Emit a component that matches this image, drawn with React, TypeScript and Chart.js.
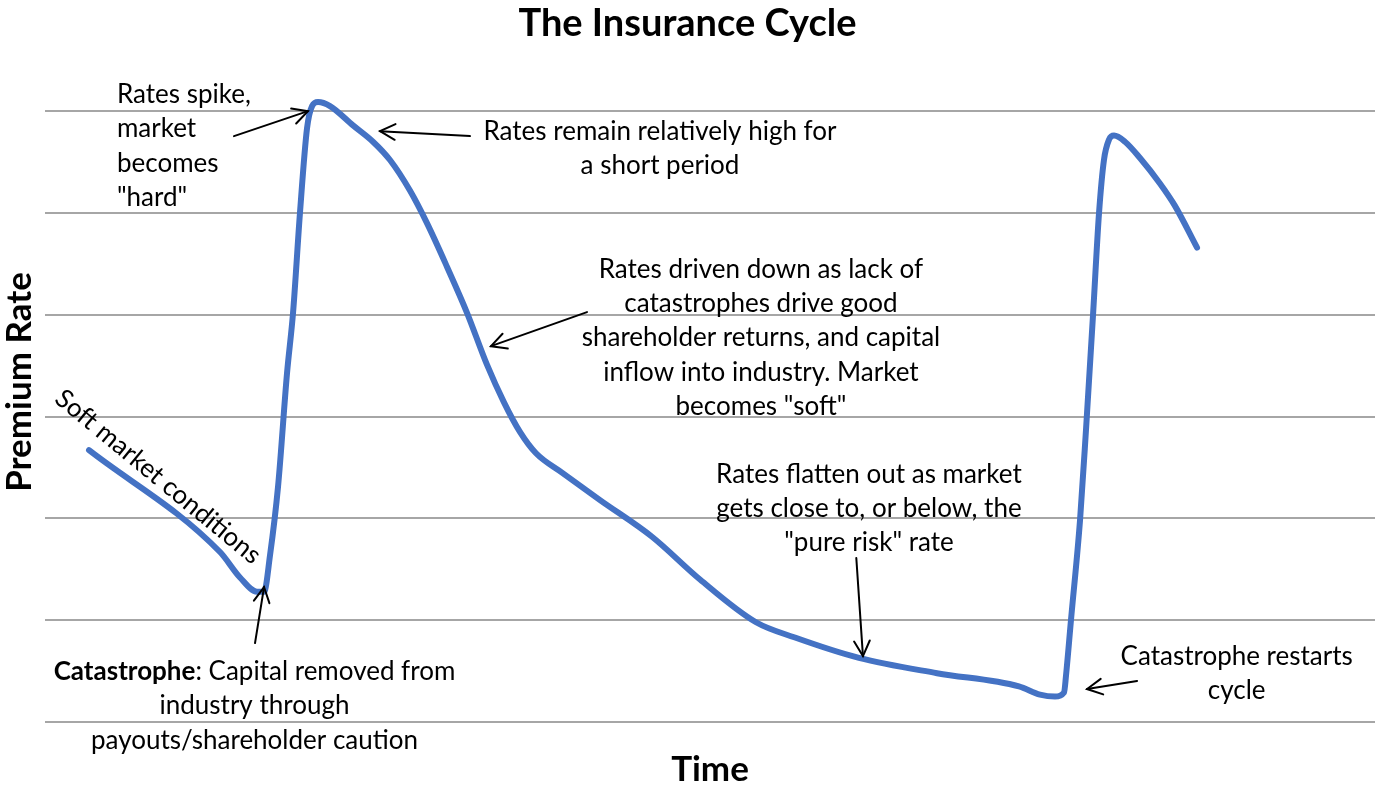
import React, { useEffect, useRef } from 'react';
import { Chart, registerables } from 'chart.js';

Chart.register(...registerables);

// ---- Data ----
const timeValues = [
  3.31, 13.16, 14.66, 15.94, 16.47, 16.92, 17.52, 18.2, 18.65, 19.17, 19.7, 20.08, 20.53, 21.43,
  23.16, 24.66, 25.94, 27.44, 28.72, 30.23, 31.73, 33.23, 34.51, 35.71, 36.92, 38.87, 41.73,
  45.64, 49.25, 53.46, 56.39, 61.2, 67.07, 73.23, 74.81, 75.94, 76.62, 76.77, 77.14, 77.82,
  78.27, 78.8, 79.25, 79.62, 80.0, 80.38, 81.2, 82.33, 83.83, 84.96, 86.62,
];
const rateValues = [
  2.67, 1.67, 1.42, 1.28, 1.28, 1.64, 2.31, 3.43, 4.02, 5.0, 5.83, 6.05, 6.09, 6.05,
  5.86, 5.7, 5.52, 5.22, 4.9, 4.47, 4.02, 3.51, 3.14, 2.85, 2.64, 2.45, 2.18,
  1.82, 1.4, 0.98, 0.83, 0.63, 0.48, 0.35, 0.27, 0.25, 0.29, 0.46, 1.0, 1.98,
  2.87, 4.0, 5.0, 5.52, 5.72, 5.76, 5.7, 5.54, 5.29, 5.07, 4.66,
];
const gridLevels = [0, 1, 2, 3, 4, 5, 6];

const chartTitle = 'The Insurance Cycle';
const xAxisTitle = 'Time';
const yAxisTitle = 'Premium Rate';

// Annotation texts (anchored in data units: time, rate)
const noteSpike = ['Rates spike,', 'market', 'becomes', '"hard"'];
const noteHigh = ['Rates remain relatively high for', 'a short period'];
const noteDown = [
  'Rates driven down as lack of',
  'catastrophes drive good',
  'shareholder returns, and capital',
  'inflow into industry. Market',
  'becomes "soft"',
];
const noteFlat = ['Rates flatten out as market', 'gets close to, or below, the', '"pure risk" rate'];
const noteRestart = ['Catastrophe restarts', 'cycle'];
const noteCatBold = 'Catastrophe';
const noteCat = [': Capital removed from', 'industry through', 'payouts/shareholder caution'];
const noteSoft = 'Soft market conditions';

const notes = [
  { lines: noteSpike, t: 5.41, v: 6.079, align: 'left' as const },
  { lines: noteHigh, t: 46.24, v: 5.715, align: 'center' as const },
  { lines: noteDown, t: 53.83, v: 4.363, align: 'center' as const },
  { lines: noteFlat, t: 61.95, v: 2.351, align: 'center' as const },
  { lines: noteRestart, t: 89.6, v: 0.562, align: 'center' as const },
  { lines: noteCat, t: 15.75, v: 0.412, align: 'center' as const, boldPrefix: noteCatBold },
];

const arrows = [
  { from: [14.21, 5.755], to: [19.77, 6.0] },
  { from: [31.95, 5.755], to: [25.19, 5.804] },
  { from: [40.75, 4.026], to: [33.53, 3.692] },
  { from: [61.0, 1.611], to: [61.5, 0.648] },
  { from: [82.11, 0.403], to: [78.35, 0.324] },
  { from: [15.79, 0.776], to: [16.47, 1.326] },
];
const softLabel = { t: 8.5, v: 2.41, angleDeg: 39.5 };

const FONT = 'Lato, "Open Sans", sans-serif';
const NOTE_SIZE = 26;
const LINE_GAP = 34.3;

const notesPlugin = {
  id: 'cycleNotes',
  afterDatasetsDraw(chart: any) {
    const { ctx, scales } = chart;
    const xs = scales.x;
    const ys = scales.y;
    const px = (t: number) => xs.getPixelForValue(t);
    const py = (v: number) => ys.getPixelForValue(v);
    ctx.save();
    ctx.fillStyle = '#000';
    ctx.strokeStyle = '#000';
    ctx.lineWidth = 2;
    ctx.lineCap = 'round';
    // arrows
    arrows.forEach((a) => {
      const x1 = px(a.from[0]);
      const y1 = py(a.from[1]);
      const x2 = px(a.to[0]);
      const y2 = py(a.to[1]);
      const ang = Math.atan2(y2 - y1, x2 - x1);
      const L = 17;
      const w = 0.48;
      ctx.beginPath();
      ctx.moveTo(x1, y1);
      ctx.lineTo(x2, y2);
      ctx.stroke();
      ctx.beginPath();
      ctx.moveTo(x2 - L * Math.cos(ang - w), y2 - L * Math.sin(ang - w));
      ctx.lineTo(x2, y2);
      ctx.lineTo(x2 - L * Math.cos(ang + w), y2 - L * Math.sin(ang + w));
      ctx.stroke();
    });
    // notes
    ctx.textBaseline = 'alphabetic';
    const regular = `${NOTE_SIZE}px ${FONT}`;
    const bold = `bold ${NOTE_SIZE}px ${FONT}`;
    notes.forEach((n) => {
      const x0 = px(n.t);
      const y0 = py(n.v);
      n.lines.forEach((line, i) => {
        const yy = y0 + i * LINE_GAP;
        if (i === 0 && n.boldPrefix) {
          ctx.font = bold;
          const wb = ctx.measureText(n.boldPrefix).width;
          ctx.font = regular;
          const wr = ctx.measureText(line).width;
          const start = x0 - (wb + wr) / 2;
          ctx.textAlign = 'left';
          ctx.font = bold;
          ctx.fillText(n.boldPrefix, start, yy);
          ctx.font = regular;
          ctx.fillText(line, start + wb, yy);
        } else {
          ctx.font = regular;
          ctx.textAlign = n.align;
          ctx.fillText(line, x0, yy);
        }
      });
    });
    // rotated label
    ctx.save();
    ctx.translate(px(softLabel.t), py(softLabel.v));
    ctx.rotate((softLabel.angleDeg * Math.PI) / 180);
    ctx.font = regular;
    ctx.textAlign = 'center';
    ctx.textBaseline = 'middle';
    ctx.fillText(noteSoft, 0, 0);
    ctx.restore();
    // y axis title
    ctx.save();
    ctx.translate(20, 382);
    ctx.rotate(-Math.PI / 2);
    ctx.font = `bold 35px ${FONT}`;
    ctx.textAlign = 'center';
    ctx.textBaseline = 'middle';
    ctx.fillText(yAxisTitle, 0, 0);
    ctx.restore();
    ctx.restore();
  },
};

export default function App() {
  const canvasRef = useRef<HTMLCanvasElement | null>(null);

  useEffect(() => {
    if (!canvasRef.current) return;
    const data = timeValues.map((t, i) => ({ x: t, y: rateValues[i] }));
    const chart = new Chart(canvasRef.current, {
      type: 'line',
      data: {
        datasets: [
          {
            label: 'Premium Rate',
            data,
            borderColor: '#4472C4',
            borderWidth: 6,
            pointRadius: 0,
            borderCapStyle: 'round',
            borderJoinStyle: 'round',
            cubicInterpolationMode: 'monotone',
            fill: false,
          },
        ],
      },
      options: {
        responsive: false,
        animation: false,
        layout: { padding: 0 },
        plugins: {
          legend: { display: false },
          tooltip: { enabled: false },
          title: {
            display: true,
            text: chartTitle,
            color: '#000',
            font: { family: FONT, size: 38, weight: 'bold' },
            padding: { top: 1, bottom: 43.4 },
          },
        },
        scales: {
          x: {
            type: 'linear',
            min: 0,
            max: 100,
            ticks: { display: false },
            grid: { display: false, drawTicks: false },
            border: { display: false },
            title: {
              display: true,
              text: xAxisTitle,
              color: '#000',
              font: { family: FONT, size: 35, weight: 'bold' },
              padding: { top: 1.4, bottom: 1 },
            },
          },
          y: {
            type: 'linear',
            min: -0.251,
            max: 6.208,
            afterBuildTicks: (axis: any) => {
              axis.ticks = gridLevels.map((v) => ({ value: v }));
            },
            afterFit: (axis: any) => {
              axis.width = 45;
            },
            ticks: { display: false },
            grid: { color: '#a6a6a6', lineWidth: 2, drawTicks: false },
            border: { display: false },
          },
        },
      },
      plugins: [notesPlugin],
    } as any);
    return () => chart.destroy();
  }, []);

  return (
    <div style={{ position: 'fixed', left: 0, top: 0, width: 1375, height: 792, background: '#fff' }}>
      <canvas ref={canvasRef} width={1375} height={792} />
    </div>
  );
}
